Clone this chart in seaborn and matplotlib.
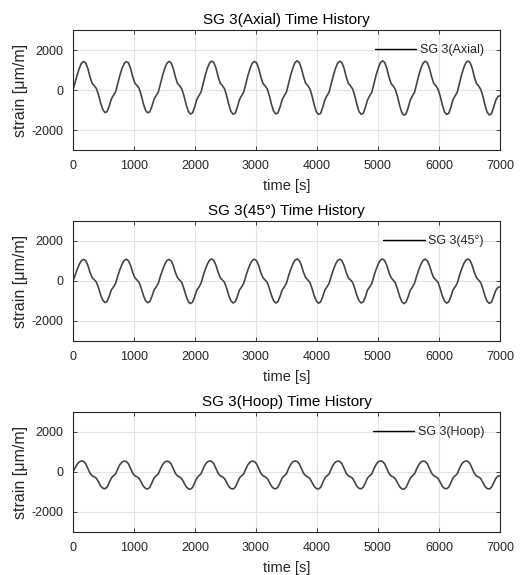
import numpy as np
import pandas as pd
import matplotlib
matplotlib.use("Agg")
import matplotlib.pyplot as plt
import seaborn as sns

# time base: 201 samples from 0 to 7000 s (35 s apart)
time_s = np.linspace(0, 7000, 201)

# strain values, one row per ~700 s cycle (20 samples each)
axial = [
    0, 380, 760, 1090, 1340, 1430, 1350, 1070, 650, 330, 220, 70, -250, -660, -980, -1130, -1080, -800, -450, -260,
    -90, 330, 740, 1080, 1330, 1420, 1360, 1080, 660, 340, 230, 80, -260, -690, -1010, -1140, -1090, -810, -460, -270,
    -100, 320, 730, 1080, 1340, 1430, 1350, 1070, 650, 330, 210, 50, -290, -720, -1060, -1200, -1150, -850, -480, -280,
    -100, 330, 750, 1100, 1360, 1450, 1370, 1090, 670, 340, 220, 60, -290, -730, -1070, -1210, -1160, -860, -480, -280,
    -100, 320, 740, 1090, 1350, 1430, 1360, 1080, 660, 330, 210, 50, -280, -720, -1060, -1190, -1150, -850, -480, -280,
    -100, 330, 750, 1100, 1370, 1460, 1380, 1090, 670, 340, 220, 50, -300, -740, -1090, -1220, -1170, -870, -490, -280,
    -100, 320, 740, 1090, 1350, 1440, 1360, 1080, 660, 330, 210, 50, -290, -730, -1080, -1210, -1160, -860, -490, -290,
    -110, 330, 750, 1100, 1370, 1460, 1380, 1090, 660, 330, 200, 30, -320, -770, -1120, -1260, -1200, -890, -500, -290,
    -110, 320, 740, 1090, 1350, 1440, 1360, 1080, 660, 330, 210, 40, -300, -740, -1090, -1220, -1170, -870, -490, -290,
    -110, 330, 750, 1100, 1360, 1450, 1370, 1090, 660, 330, 200, 30, -310, -760, -1110, -1250, -1190, -880, -520, -330,
    -280,
]

deg45 = [
    0, 280, 580, 840, 1020, 1080, 1010, 780, 430, 170, 60, -60, -350, -700, -960, -1080, -1020, -760, -440, -300,
    -110, 250, 570, 840, 1030, 1090, 1010, 770, 420, 160, 50, -70, -370, -720, -980, -1090, -1030, -770, -450, -300,
    -110, 250, 560, 830, 1020, 1080, 1000, 770, 420, 160, 40, -80, -390, -750, -1020, -1130, -1060, -790, -460, -310,
    -110, 260, 580, 850, 1040, 1100, 1020, 780, 430, 170, 50, -70, -370, -730, -990, -1100, -1040, -780, -450, -300,
    -110, 250, 570, 840, 1030, 1090, 1010, 770, 420, 160, 50, -70, -370, -720, -990, -1100, -1040, -770, -450, -300,
    -110, 260, 580, 850, 1040, 1100, 1020, 780, 430, 170, 50, -80, -380, -740, -1000, -1110, -1050, -780, -450, -300,
    -110, 250, 570, 840, 1030, 1090, 1010, 770, 420, 160, 50, -70, -370, -730, -990, -1100, -1040, -780, -450, -300,
    -110, 260, 580, 850, 1040, 1100, 1020, 780, 430, 170, 40, -90, -400, -760, -1030, -1130, -1060, -790, -460, -310,
    -110, 250, 570, 840, 1030, 1090, 1010, 770, 420, 160, 50, -70, -380, -740, -1000, -1110, -1050, -780, -450, -300,
    -110, 260, 580, 850, 1040, 1100, 1020, 780, 430, 170, 40, -80, -390, -750, -1020, -1120, -1060, -790, -480, -330,
    -290,
]

hoop = [
    0, 210, 390, 510, 550, 530, 410, 180, -60, -190, -240, -320, -500, -700, -810, -840, -760, -530, -300, -190,
    -90, 160, 370, 500, 545, 525, 410, 180, -60, -190, -240, -320, -510, -710, -820, -850, -770, -540, -300, -190,
    -90, 160, 370, 500, 540, 520, 400, 170, -70, -200, -250, -340, -530, -730, -840, -860, -780, -550, -310, -190,
    -90, 170, 380, 510, 550, 530, 410, 180, -60, -190, -240, -330, -520, -720, -830, -850, -770, -540, -300, -190,
    -90, 160, 370, 500, 545, 525, 410, 180, -60, -190, -240, -320, -510, -710, -820, -840, -760, -540, -300, -190,
    -90, 170, 380, 510, 550, 530, 410, 180, -60, -190, -250, -330, -520, -720, -830, -850, -770, -540, -300, -190,
    -90, 160, 370, 500, 545, 525, 410, 180, -60, -190, -240, -320, -510, -710, -820, -840, -760, -540, -300, -190,
    -90, 170, 380, 510, 550, 530, 410, 180, -70, -200, -250, -340, -530, -730, -840, -860, -780, -550, -310, -190,
    -90, 160, 370, 500, 545, 525, 410, 180, -60, -190, -240, -320, -510, -710, -820, -840, -760, -540, -300, -190,
    -90, 170, 380, 510, 550, 530, 410, 180, -60, -200, -250, -330, -520, -720, -830, -850, -770, -560, -330, -210,
    -190,
]

series_names = ["SG 3(Axial)", "SG 3(45\u00b0)", "SG 3(Hoop)"]
series_values = [axial, deg45, hoop]

x_ticks = [0, 1000, 2000, 3000, 4000, 5000, 6000, 7000]
y_ticks = [-2000, 0, 2000]

text_col = "#262626"

sns.set_style("ticks")
plt.rcParams["font.family"] = ["Liberation Sans", "DejaVu Sans"]
plt.rcParams["axes.unicode_minus"] = False

fig = plt.figure(figsize=(5.21, 5.75), dpi=100)

# axes boxes (figure fractions) for the three stacked panels
bottoms = [0.7391, 0.4070, 0.0748]

for name, vals, b in zip(series_names, series_values, bottoms):
    ax = fig.add_axes([0.140, b, 0.8196, 0.2087])
    df = pd.DataFrame({"time": time_s, "strain": vals})
    sns.lineplot(data=df, x="time", y="strain", ax=ax, color="#454545",
                 linewidth=1.2, label=name)

    ax.set_xlim(0, 7000)
    ax.set_ylim(-3000, 3000)
    ax.set_xticks(x_ticks)
    ax.set_yticks(y_ticks)
    ax.grid(True, color="#e3e3e3", linewidth=0.8)
    ax.set_axisbelow(True)
    ax.tick_params(direction="in", top=True, right=True, length=3,
                   width=0.6, labelsize=9, colors=text_col, pad=7)
    for sp in ax.spines.values():
        sp.set_color(text_col)
        sp.set_linewidth(0.8)

    ax.set_title(name + " Time History", fontsize=11, color="black", pad=4)
    ax.set_xlabel("time [s]", fontsize=10.5, color=text_col, labelpad=5)
    ax.set_ylabel("strain [\u03bcm/m]", fontsize=11.5, color=text_col, labelpad=2)

    leg = ax.legend(loc="center right", bbox_to_anchor=(0.9625, 0.833),
                    frameon=False, fontsize=9, handlelength=3.3,
                    handletextpad=0.3, borderpad=0, borderaxespad=0)
    for h in leg.get_lines():
        h.set_color("black")
        h.set_linewidth(1.0)
    for t in leg.get_texts():
        t.set_color(text_col)

fig.savefig("out.png", dpi=100)
